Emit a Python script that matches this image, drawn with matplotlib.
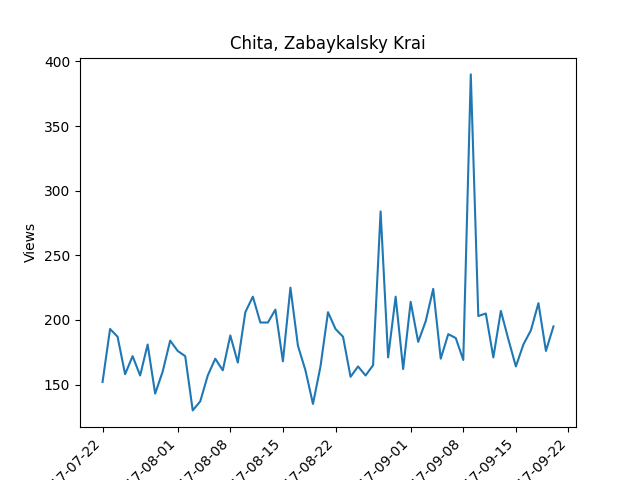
import matplotlib
matplotlib.use("Agg")
import matplotlib.pyplot as plt
import pandas as pd

start_date = "2017-07-22"
views = [152, 193, 187, 158, 172, 157, 181, 143, 160, 184,
         176, 172, 130, 137, 157, 170, 161, 188, 167, 206,
         218, 198, 198, 208, 168, 225, 180, 161, 135, 164,
         206, 193, 187, 156, 164, 157, 165, 284, 171, 218,
         162, 214, 183, 199, 224, 170, 189, 186, 169, 390,
         203, 205, 171, 207, 185, 164, 181, 192, 213, 176, 195]
dates = pd.date_range(start_date, periods=len(views), freq="D")

fig, ax = plt.subplots(figsize=(6.4, 4.8), dpi=100)
ax.plot(dates, views)
ax.set_title("Chita, Zabaykalsky Krai")
ax.set_ylabel("Views")
plt.setp(ax.get_xticklabels(), rotation=45, ha="right")
fig.savefig("out.png")
